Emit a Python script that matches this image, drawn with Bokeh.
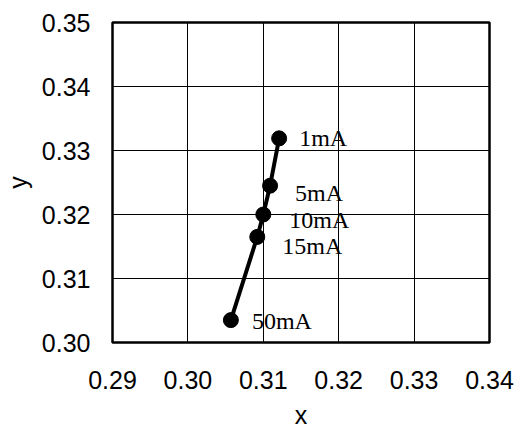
from bokeh.plotting import figure
from bokeh.models import ColumnDataSource, Range1d, FixedTicker, NumeralTickFormatter
from bokeh.core.properties import value
from bokeh.embed import file_html
from bokeh.resources import INLINE

currents = ["1mA", "5mA", "10mA", "15mA", "50mA"]
x_vals = [0.3121, 0.3109, 0.3100, 0.3092, 0.3057]
y_vals = [0.3319, 0.3245, 0.3200, 0.3165, 0.3035]
label_dx = [20, 25, 26, 25, 21]
label_dy = [0, 7, 5, 9, 1]
x_ticks = [0.29, 0.30, 0.31, 0.32, 0.33, 0.34]
y_ticks = [0.30, 0.31, 0.32, 0.33, 0.34, 0.35]

src = ColumnDataSource(dict(x=x_vals, y=y_vals, t=currents, dx=label_dx, dy=label_dy))

p = figure(width=516, height=431, output_backend="svg", toolbar_location=None,
           x_range=Range1d(0.29, 0.34), y_range=Range1d(0.30, 0.35),
           min_border_left=112, min_border_right=27, min_border_top=22, min_border_bottom=89)
p.outline_line_color = "black"
p.outline_line_width = 2.5
p.background_fill_color = "white"
p.border_fill_color = "white"

for ax, ticks in ((p.xaxis[0], x_ticks), (p.yaxis[0], y_ticks)):
    ax.ticker = FixedTicker(ticks=ticks)
    ax.formatter = NumeralTickFormatter(format="0.00")
    ax.axis_line_color = None
    ax.major_tick_line_color = None
    ax.minor_tick_line_color = None
    ax.major_tick_out = 0
    ax.major_tick_in = 0
    ax.minor_tick_out = 0
    ax.minor_tick_in = 0
    ax.major_label_text_font = "Liberation Sans"
    ax.major_label_text_font_size = "25px"
    ax.major_label_text_color = "black"
    ax.axis_label_text_font = "Liberation Sans"
    ax.axis_label_text_font_size = "25px"
    ax.axis_label_text_font_style = "normal"
    ax.axis_label_text_color = "black"

p.xaxis.axis_label = "x"
p.yaxis.axis_label = "y"
p.xaxis.major_label_standoff = 28
p.yaxis.major_label_standoff = 22
p.xaxis.axis_label_standoff = 9
p.yaxis.axis_label_standoff = 7

p.xgrid.ticker = FixedTicker(ticks=x_ticks)
p.ygrid.ticker = FixedTicker(ticks=y_ticks)
p.grid.grid_line_color = "black"
p.grid.grid_line_width = 1
p.grid.grid_line_alpha = 1

p.line("x", "y", source=src, line_color="black", line_width=4)
p.scatter("x", "y", source=src, size=15, fill_color="black", line_color="black")
p.text("x", "y", text="t", source=src, x_offset="dx", y_offset="dy",
       text_font=value("Liberation Serif"), text_font_size="24px",
       text_align="left", text_baseline="middle", text_color="black")

open("out.html", "w").write(file_html(p, INLINE))
